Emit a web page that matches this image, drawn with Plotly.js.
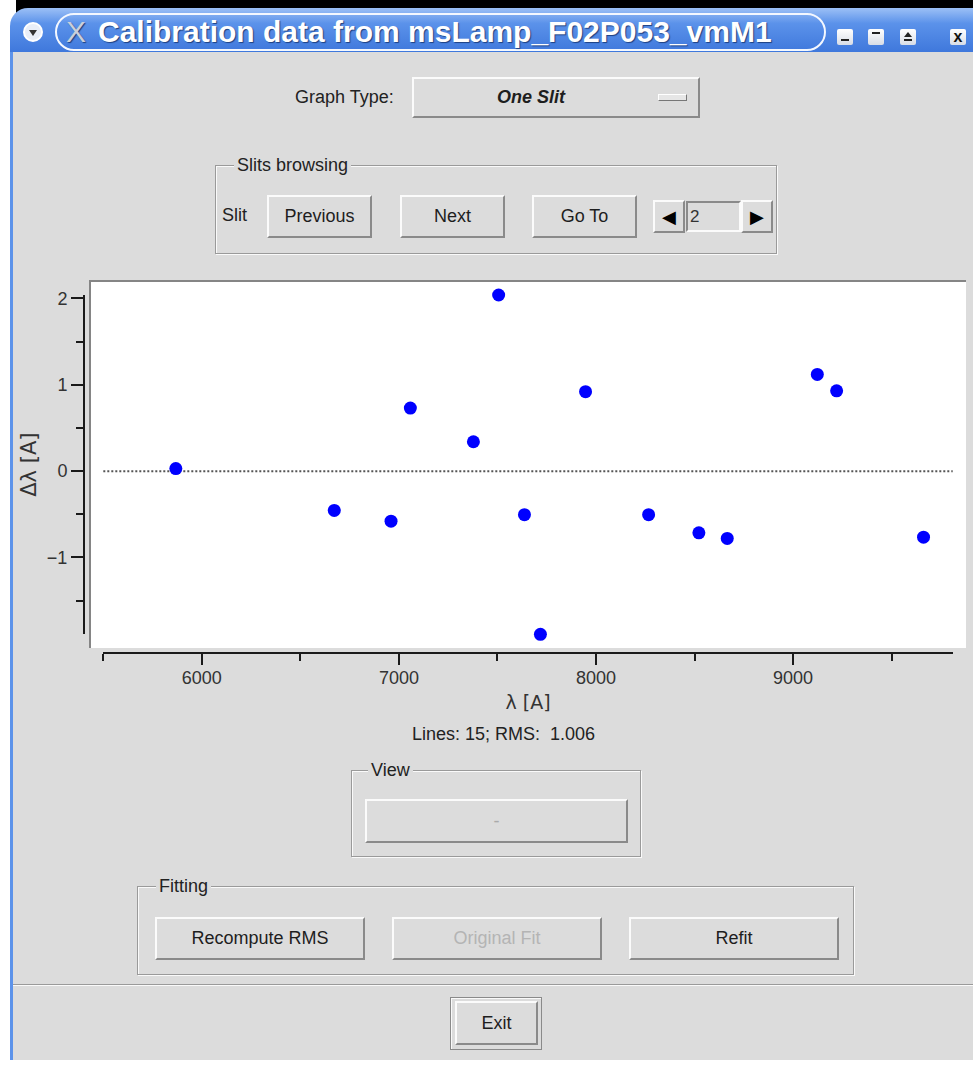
<!DOCTYPE html>
<html><head><meta charset="utf-8">
<script src="https://cdn.plot.ly/plotly-3.0.1.min.js"></script>
<style>
html,body{margin:0;padding:0;width:973px;height:1066px;overflow:hidden;background:#fff;font-family:'Liberation Sans',Arial,sans-serif;}
.abs{position:absolute;box-sizing:border-box;}
#topblack{left:16px;top:0;width:957px;height:18px;background:#000;}
#titlebar{left:10px;top:8px;width:963px;height:44px;background:linear-gradient(#9cc0f6,#5b92ea 35%,#3f78dc);border-top-left-radius:18px;}
#winbody{left:10px;top:52px;width:963px;height:1008px;background:#dcdcdc;border-left:3px solid #5d93ea;}
#pill{left:55px;top:13px;width:771px;height:38px;border:2px solid #f4f8ff;border-radius:19px;}
#ttl{left:98px;top:12px;font-size:30px;font-weight:bold;color:#fff;text-shadow:1px 1px 1px #1d3f80;white-space:nowrap;line-height:40px;}
#ttlx{left:66px;top:12px;font-size:30px;color:#c9cfdc;line-height:40px;text-shadow:1px 1px 1px #1d3f80;}
#circ{left:23px;top:22px;width:20px;height:20px;border-radius:10px;background:#e9eef8;border:2px solid #fff;}
#circ:after{content:"";position:absolute;left:4px;top:6px;border-left:4px solid transparent;border-right:4px solid transparent;border-top:6px solid #333;}
.wb{width:16px;height:16px;top:29px;background:linear-gradient(#ffffff,#d8dde6);border-radius:2px;}
.btn{background:#dcdcdc;border:2px solid;border-color:#fbfbfb #8a8a8a #8a8a8a #fbfbfb;display:flex;align-items:center;justify-content:center;font-size:18px;color:#1e1e1e;}
.group{border:1px solid #9a9a9a;box-shadow:inset 1px 1px 0 #fafafa, 1px 1px 0 #fafafa;}
.glabel{background:#dcdcdc;padding:0 3px;font-size:18px;color:#222;line-height:20px;}
.lbl{font-size:18px;color:#222;line-height:20px;white-space:nowrap;}
#plot{position:absolute;left:0;top:0;width:973px;height:1066px;z-index:5;pointer-events:none;}
</style></head>
<body>
<div class="abs" id="topblack"></div>
<div class="abs" id="titlebar"></div>
<div class="abs" id="pill"></div>
<div class="abs" id="circ"></div>
<div class="abs" id="ttlx">X</div>
<div class="abs" id="ttl">Calibration data from msLamp_F02P053_vmM1</div>
<div class="abs wb" style="left:837px"><div style="position:absolute;left:4px;top:10px;width:8px;height:2px;background:#222"></div></div>
<div class="abs wb" style="left:868px"><div style="position:absolute;left:4px;top:3px;width:8px;height:2px;background:#222"></div></div>
<div class="abs wb" style="left:900px"><div style="position:absolute;left:4px;top:3px;border-left:4px solid transparent;border-right:4px solid transparent;border-bottom:5px solid #222"></div><div style="position:absolute;left:4px;top:10px;width:8px;height:2px;background:#222"></div></div>
<div class="abs wb" style="left:950px;font-weight:bold;font-size:16px;line-height:16px;text-align:center;color:#111">x</div>
<div class="abs" id="winbody"></div>

<div class="abs lbl" style="left:295px;top:87px;">Graph Type:</div>
<div class="abs btn" style="left:412px;top:77px;width:288px;height:41px;font-weight:bold;font-style:italic;"><span style="margin-left:-50px">One Slit</span></div>
<div class="abs" style="left:658px;top:94px;width:29px;height:7px;background:#e6e6e6;border:1px solid;border-color:#fff #777 #777 #fff;"></div>

<div class="abs group" style="left:215px;top:165px;width:562px;height:89px;"></div>
<div class="abs glabel" style="left:234px;top:155px;">Slits browsing</div>
<div class="abs lbl" style="left:222px;top:205px;">Slit</div>
<div class="abs btn" style="left:267px;top:195px;width:105px;height:43px;">Previous</div>
<div class="abs btn" style="left:400px;top:195px;width:105px;height:43px;">Next</div>
<div class="abs btn" style="left:532px;top:195px;width:105px;height:43px;">Go To</div>
<div class="abs btn" style="left:653px;top:200px;width:32px;height:33px;font-size:18px;color:#000;">&#9664;</div>
<div class="abs" style="left:686px;top:201px;width:55px;height:31px;border:2px solid;border-color:#8a8a8a #fbfbfb #fbfbfb #8a8a8a;font-size:17px;color:#333;line-height:27px;padding-left:2px;">2</div>
<div class="abs btn" style="left:741px;top:200px;width:32px;height:33px;font-size:18px;color:#000;">&#9654;</div>

<div class="abs group" style="left:351px;top:770px;width:290px;height:87px;"></div>
<div class="abs glabel" style="left:368px;top:760px;">View</div>
<div class="abs btn" style="left:365px;top:799px;width:263px;height:44px;color:#aaa;">-</div>

<div class="abs group" style="left:137px;top:886px;width:717px;height:89px;"></div>
<div class="abs glabel" style="left:156px;top:876px;">Fitting</div>
<div class="abs btn" style="left:155px;top:917px;width:210px;height:43px;">Recompute RMS</div>
<div class="abs btn" style="left:392px;top:917px;width:210px;height:43px;color:#b4b4b4;">Original Fit</div>
<div class="abs btn" style="left:629px;top:917px;width:210px;height:43px;">Refit</div>

<div class="abs" style="left:13px;top:984px;width:960px;height:2px;border-top:1px solid #9a9a9a;border-bottom:1px solid #fafafa;"></div>
<div class="abs" style="left:450px;top:997px;width:92px;height:53px;border:1px solid #8a8a8a;box-shadow:inset 1px 1px 0 #fafafa;"></div>
<div class="abs btn" style="left:455px;top:1001px;width:83px;height:44px;">Exit</div>

<div id="plot"></div>
<script>
// Wavelength of calibration lines [A]
const lambdaA = [5868, 6672, 6960, 7058, 7378, 7506, 7637, 7718, 7947, 8267, 8522, 8666, 9123, 9221, 9662];
// Residuals delta lambda [A]
const dLambda = [0.03, -0.455, -0.58, 0.73, 0.34, 2.04, -0.505, -1.89, 0.92, -0.505, -0.715, -0.78, 1.12, 0.93, -0.765];
const xRange = [5500, 9810];
const yRange = [-1.89, 2.04];
const xTitle = 'λ [A]';
const yTitle = 'Δλ [A]';
const infoText = 'Lines: 15; RMS:  1.006';

const W = 973, H = 1066;
const L = 84, R = 967, T = 280, B = 653;
const pw = R - L, ph = B - T;
const xdom = [(103.3 - L) / pw, (952.7 - L) / pw];
const ydom = [(B - 634.3) / ph, (B - 295) / ph];
const fam = 'Liberation Sans, Arial, sans-serif';
const axc = '#1a1a1a';

const trace = {
  x: lambdaA, y: dLambda, type: 'scatter', mode: 'markers',
  marker: {color: '#0000ff', size: 13, line: {width: 0}},
  cliponaxis: false,
  hoverinfo: 'skip'
};

const layout = {
  width: W, height: H,
  margin: {l: L, r: W - R, t: T, b: H - B, pad: 0},
  paper_bgcolor: 'rgba(0,0,0,0)', plot_bgcolor: 'rgba(0,0,0,0)',
  showlegend: false,
  xaxis: {
    domain: xdom, range: xRange, anchor: 'free', position: 0,
    showgrid: false, zeroline: false, showline: true, linecolor: axc, linewidth: 2,
    ticks: 'outside', ticklen: 11, tickwidth: 2, tickcolor: axc, tick0: 0, dtick: 1000,
    tickformat: 'd', ticklabelstandoff: -3,
    tickfont: {family: fam, size: 18, color: '#333'},
    minor: {dtick: 500, ticks: 'outside', ticklen: 7, tickwidth: 2, tickcolor: axc, showgrid: false},
    title: {text: xTitle, font: {family: 'DejaVu Sans, sans-serif', size: 19, color: '#333'}, standoff: 8},
    fixedrange: true
  },
  yaxis: {
    domain: ydom, range: yRange, anchor: 'free', position: 0,
    showgrid: false, zeroline: false, showline: true, linecolor: axc, linewidth: 2,
    ticks: 'outside', ticklen: 12, tickwidth: 2, tickcolor: axc, tick0: 0, dtick: 1,
    tickformat: 'd',
    tickfont: {family: fam, size: 18, color: '#333'},
    minor: {dtick: 0.5, ticks: 'outside', ticklen: 7, tickwidth: 2, tickcolor: axc, showgrid: false},
    title: {text: yTitle, font: {family: 'DejaVu Sans, sans-serif', size: 21, color: '#333'}, standoff: 4},
    fixedrange: true
  },
  shapes: [
    {type: 'rect', xref: 'paper', yref: 'paper', x0: (89 - L) / pw, x1: (966 - L) / pw, y0: (B - 648) / ph, y1: 1,
     fillcolor: '#ffffff', line: {width: 0}, layer: 'below'},
    {type: 'line', xref: 'paper', yref: 'paper', x0: (89 - L) / pw, x1: (966 - L) / pw, y0: 1 - 1 / ph, y1: 1 - 1 / ph,
     line: {color: '#858585', width: 2}, layer: 'below'},
    {type: 'line', xref: 'paper', yref: 'paper', x0: (90 - L) / pw, x1: (90 - L) / pw, y0: (B - 648) / ph, y1: 1,
     line: {color: '#858585', width: 2}, layer: 'below'},
    {type: 'line', xref: 'paper', yref: 'y', x0: xdom[0], x1: xdom[1], y0: 0, y1: 0,
     line: {color: '#555555', width: 2, dash: '2px,2px'}, layer: 'below'}
  ],
  annotations: [
    {xref: 'paper', yref: 'paper', x: (503 - L) / pw, y: (B - 734) / ph, xanchor: 'center', yanchor: 'middle',
     text: infoText, showarrow: false, font: {family: fam, size: 18, color: '#222'}}
  ]
};

Plotly.newPlot('plot', [trace], layout, {staticPlot: true, displayModeBar: false});
</script>
</body></html>
